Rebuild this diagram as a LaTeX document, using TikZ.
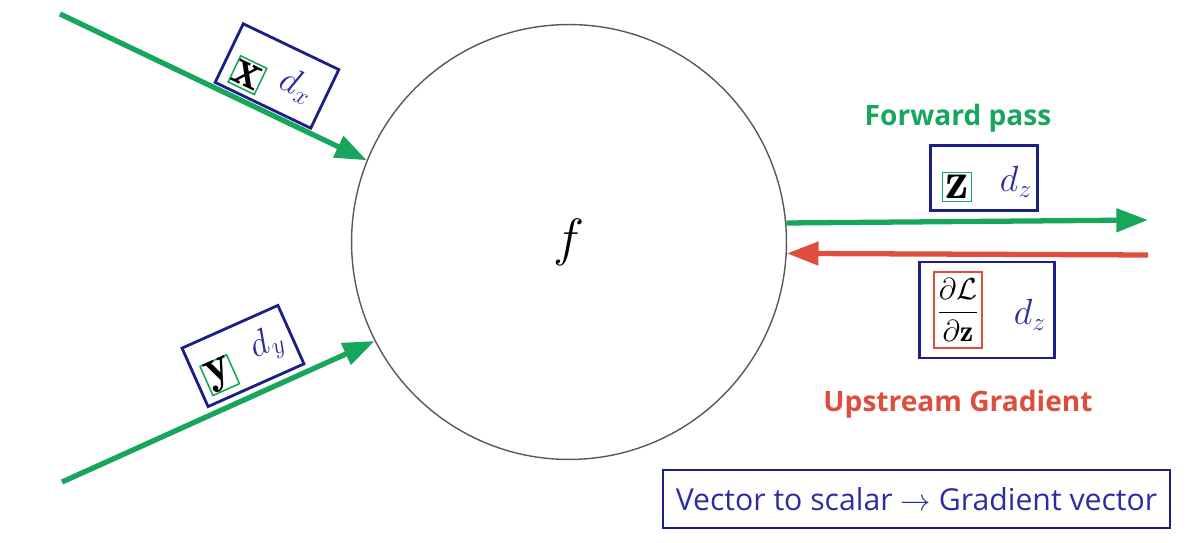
\documentclass[tikz,border=0pt]{standalone}
\usepackage{amsmath,amssymb}
\usepackage{graphicx}
\usepackage{fontspec}
\setsansfont{Open Sans}
\usetikzlibrary{arrows.meta,positioning}
\definecolor{fwdgreen}{RGB}{24,166,92}
\definecolor{bwdred}{RGB}{222,78,60}
\definecolor{boxblue}{RGB}{30,30,135}
\definecolor{txtblue}{RGB}{45,45,160}

\begin{document}
\begin{tikzpicture}[x=0.02cm, y=-0.02cm,
    vecbox/.style={draw=boxblue, line width=1.6pt, inner sep=0pt},
    inbox/.style={draw=fwdgreen, line width=0.9pt, inner sep=0pt, minimum size=0.58cm, font=\fontsize{20.74}{21}\selectfont},
    dlab/.style={text=txtblue, inner sep=0pt, font=\fontsize{20.74}{21}\selectfont},
    fwd/.style={-{Triangle[length=18pt, width=13pt]}, line width=3pt, fwdgreen},
    bwd/.style={-{Triangle[length=18pt, width=13pt]}, line width=3pt, bwdred}
]
\useasboundingbox (0,0) rectangle (1200,543);

% The function node
\node[circle, draw=black!65, line width=0.8pt, minimum size=8.7cm, inner sep=0pt] (f) at (569,242) {\fontsize{24.88}{25}\selectfont\scalebox{1.2}{$f$}};

% Loose ends of the arrows
\coordinate (xin) at (60,14);
\coordinate (yin) at (62,482);
\coordinate (zout) at (1148,220);
\coordinate (gin) at (1148,255);

% Inputs
\draw[fwd] (xin) -- (f.158);
\draw[fwd] (yin) -- (f.207);

% Output and upstream gradient
\draw[fwd] (f.5.8) -- (zout);
\draw[bwd] (gin) -- (f.-3.4);

% Box for x
\begin{scope}[shift={(277,76)}, rotate=-25.6]
\node[vecbox, rotate=-25.6, minimum width=2.12cm, minimum height=1.3cm] (xbox) at (0,0) {};
\node[inbox, rotate=-25.6] (xvar) at (-27,12) {\scalebox{1.45}{$\mathbf{x}$}};
\node[dlab, rotate=-25.6] (dx) at (22,0) {$d_{x}$};
\end{scope}

% Box for y
\begin{scope}[shift={(243,356)}, rotate=24]
\node[vecbox, rotate=24, minimum width=2.1cm, minimum height=1.28cm] (ybox) at (0,0) {};
\node[inbox, rotate=24] (yvar) at (-29,8) {\scalebox{1.35}{$\mathbf{y}$}};
\node[dlab, rotate=24] (dy) at (27,0) {$d_{y}$};
\end{scope}

% Box for z
\node[vecbox, minimum width=2.14cm, minimum height=1.3cm] (zbox) at (984,178) {};
\node[inbox] (zvar) at (957,187) {\scalebox{1.45}{$\mathbf{z}$}};
\node[dlab] (dz) at (1016,182) {$d_{z}$};

% Box for the gradient
\node[vecbox, minimum width=2.7cm, minimum height=1.92cm] (gbox) at (987,310) {};
\node[draw=bwdred, line width=0.9pt, inner sep=0.5pt, minimum width=0.96cm, minimum height=1.52cm, font=\fontsize{17.28}{18}\selectfont] (gvar) at (958,310) {$\dfrac{\partial\mathcal{L}}{\partial\mathbf{z}}$};
\node[dlab] (dg) at (1030,315) {$d_{z}$};

% Labels
\node[text=fwdgreen, font=\sffamily\bfseries\fontsize{16}{16}\selectfont] (fwdlab) at (958,118) {Forward pass};
\node[text=bwdred, font=\sffamily\bfseries\fontsize{16}{16}\selectfont] (bwdlab) at (958,404) {Upstream Gradient};

% Note
\node[draw=boxblue, line width=1.3pt, text=txtblue, minimum width=10.14cm, minimum height=1.16cm, font=\sffamily\fontsize{17.2}{17.2}\selectfont] (note) at (916.5,499) {Vector to scalar $\to$ Gradient vector};

\end{tikzpicture}
\end{document}
